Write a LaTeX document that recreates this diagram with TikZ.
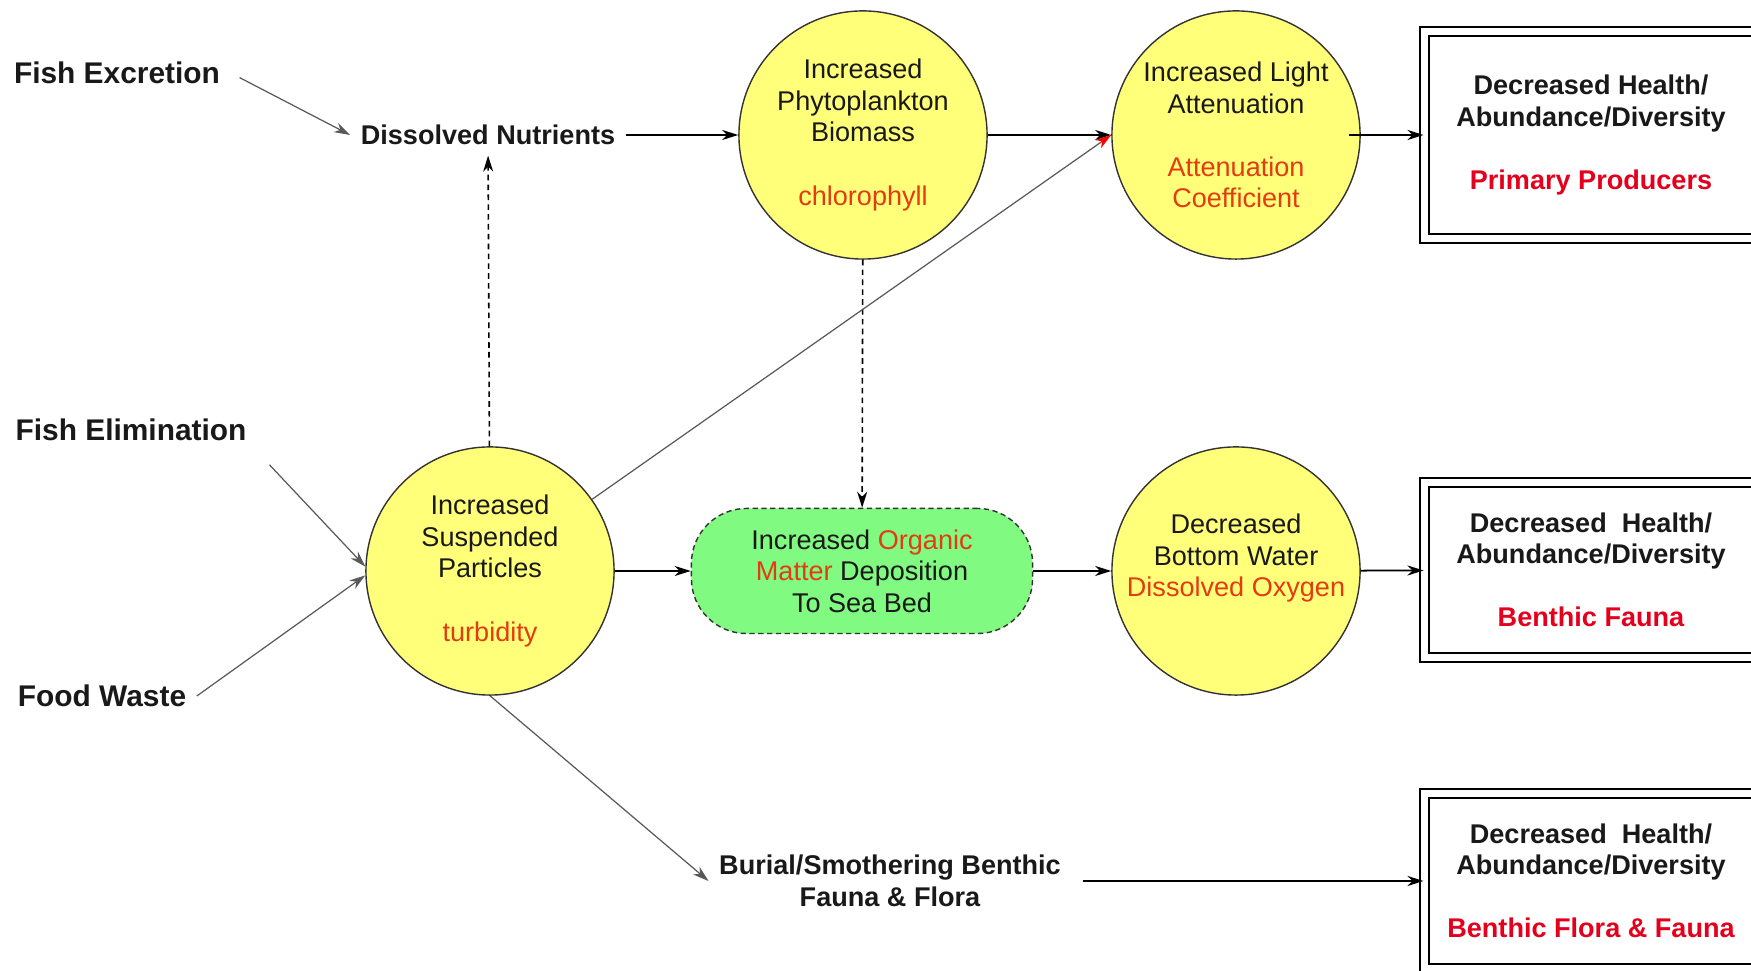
\documentclass[tikz,border=0pt]{standalone}
\usepackage{fontspec}
\setmainfont{Liberation Sans}
\usetikzlibrary{arrows.meta}
\definecolor{bulb}{RGB}{255,255,122}
\definecolor{leaf}{RGB}{128,250,128}
\definecolor{rust}{RGB}{228,60,18}
\definecolor{alarm}{RGB}{228,0,28}

\begin{document}
\begin{tikzpicture}[x=0.01cm,y=-0.01cm,
	font=\fontsize{7.7}{8.96}\selectfont,
	every node/.style={align=center,text=black!90},
	src/.style={font=\fontsize{8.5}{10}\selectfont\bfseries,inner sep=0.1cm},
	tag/.style={font=\fontsize{7.7}{8.96}\selectfont\bfseries,inner sep=0.1cm},
	stage/.style={circle,draw=black!80,line width=0.4pt,fill=bulb,minimum size=2.48cm,inner sep=0pt},
	impact/.style={rectangle,draw,double,double distance=0.07cm,line width=0.5pt,minimum width=3.33cm,font=\fontsize{7.7}{8.96}\selectfont\bfseries},
	link/.style={-{Stealth[length=0.16cm,width=0.1cm,inset=0.05cm]},line width=0.5pt},
	faint/.style={link,draw=black!65,line width=0.35pt},
	dotlink/.style={link,dash pattern=on 1.6pt off 1.2pt,line width=0.45pt}]
\useasboundingbox (0,0) rectangle (1751,971);
\clip (0,0) rectangle (1751,971);

\node[src] (fexc) at (117,73) {Fish Excretion};
\node[src] (felim) at (131,430) {Fish Elimination};
\node[src] (fwaste) at (102,696) {Food Waste};
\node[tag] (dnut) at (488,135) {Dissolved Nutrients};
\node[tag] (burial) at (890,881) {Burial/Smothering Benthic\\Fauna \& Flora};

\node[stage] (phyto) at (863,135) {Increased\\Phytoplankton\\Biomass\\[8.96pt]\textcolor{rust}{chlorophyll}};
\node[stage] (light) at (1236,135) {Increased Light\\Attenuation\\[8.96pt]\textcolor{rust}{Attenuation}\\\textcolor{rust}{Coefficient}};
\node[stage] (susp) at (490,571) {Increased\\Suspended\\Particles\\[8.96pt]\textcolor{rust}{turbidity}};
\node[stage] (oxy) at (1236,571) {Decreased\\Bottom Water\\\textcolor{rust}{Dissolved Oxygen}\\\mbox{}};
\node[draw=black!80,dash pattern=on 1.5pt off 1pt,line width=0.4pt,fill=leaf,rounded corners=0.55cm,minimum width=3.41cm,minimum height=1.25cm] (organic) at (862,571) {Increased \textcolor{rust}{Organic}\\\textcolor{rust}{Matter} Deposition\\To Sea Bed};

\node[impact,minimum height=2.07cm] (ppbox) at (1591,135) {Decreased Health/\\Abundance/Diversity\\[8.96pt]\textcolor{alarm}{Primary Producers}};
\node[impact,minimum height=1.75cm] (bfbox) at (1591,570) {Decreased\ \ Health/\\Abundance/Diversity\\[8.96pt]\textcolor{alarm}{Benthic Fauna}};
\node[impact,minimum height=1.75cm] (bffbox) at (1591,881) {Decreased\ \ Health/\\Abundance/Diversity\\[8.96pt]\textcolor{alarm}{Benthic Flora \& Fauna}};

\draw[faint,shorten <=0.1cm] (fexc.east) -- (dnut.west);
\draw[link] (dnut) -- (phyto);
\draw[link] (phyto) -- (light);
\draw[link,shorten <=-0.12cm] (light) -- (ppbox);
\draw[dotlink] (susp) -- (dnut);
\draw[dotlink] (phyto) -- (organic);
\draw[faint,-{Stealth[length=0.16cm,width=0.1cm,inset=0.05cm,color=red]}] (susp) -- (light.west);
\draw[faint,shorten <=0.18cm] (felim.south east) -- (susp.178);
\draw[faint] (fwaste.east) -- (susp.182);
\draw[link] (susp) -- (organic);
\draw[link] (organic) -- (oxy);
\draw[link] (oxy) -- (bfbox);
\draw[faint] (susp.south) -- (burial.west);
\draw[link,shorten <=0.12cm] (burial) -- (bffbox);
\end{tikzpicture}
\end{document}
